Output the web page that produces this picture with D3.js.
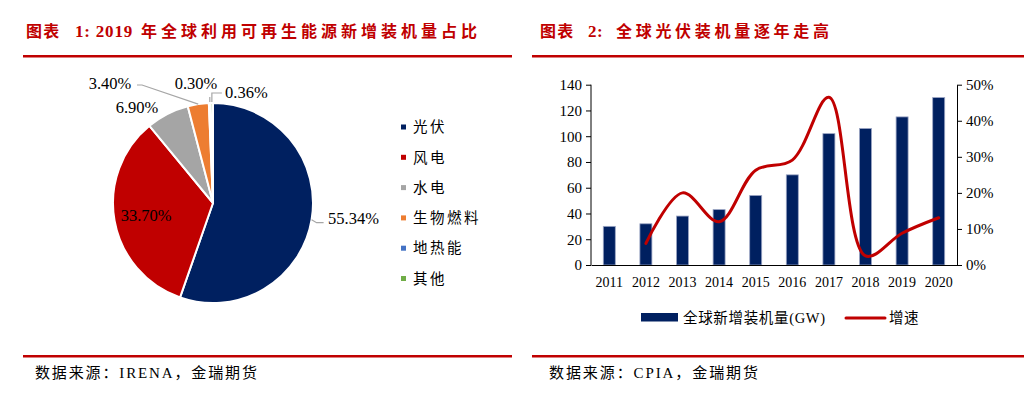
<!DOCTYPE html>
<html><head><meta charset="utf-8">
<script src="https://cdn.jsdelivr.net/npm/d3@7"></script>
<style>
body{margin:0;background:#fff;}
svg{display:block;}
text{font-family:"Liberation Serif","Times New Roman","Noto Sans CJK SC",serif;fill:#000;}
</style></head>
<body><svg id="c" width="1024" height="394"></svg>
<script>
// ---------- data ----------
const pieCategories = ["光伏","风电","水电","生物燃料","地热能","其他"];
const pieValues = [55.34, 33.70, 6.90, 3.40, 0.30, 0.36];
const pieLabels = ["55.34%","33.70%","6.90%","3.40%","0.30%","0.36%"];
const pieColors = ["#002060","#C00000","#A5A5A5","#ED7D31","#4472C4","#70AD47"];

const years = ["2011","2012","2013","2014","2015","2016","2017","2018","2019","2020"];
const installGW = [30, 32, 38, 43, 54, 70, 102, 106, 115, 130];
const growthYears = ["2012","2013","2014","2015","2016","2017","2018","2019","2020"];
const growthRate = [0.060, 0.200, 0.120, 0.263, 0.291, 0.465, 0.025, 0.088, 0.131];
const leftTicks = [0,20,40,60,80,100,120,140];
const rightTicks = [0,0.1,0.2,0.3,0.4,0.5];

const RED = "#C00000", NAVY = "#002060";
const svg = d3.select("#c");

// ---------- titles & rules ----------
function title(parts, xs){
  const t = svg.append("text").attr("y", 37).attr("fill", RED).style("fill", RED)
    .attr("font-weight","bold");
  parts.forEach((p,i)=>{
    t.append("tspan").attr("x", xs[i]).text(p.t)
      .attr("font-size", p.fs).attr("letter-spacing", p.ls)
      .style("font-family", p.f);
  });
}
const cjk = '"Noto Sans CJK SC",sans-serif';
const ser = '"Liberation Serif",serif';
title([
  {t:"图表", fs:16, ls:1.3, f:cjk},
  {t:"1: 2019", fs:17, ls:0.8, f:ser},
  {t:"年全球利用可再生能源新增装机量占比", fs:16, ls:4, f:cjk}], [26, 75, 141]);
title([
  {t:"图表", fs:16, ls:1.3, f:cjk},
  {t:"2:", fs:17, ls:0.5, f:ser},
  {t:"全球光伏装机量逐年走高", fs:16, ls:3.7, f:cjk}], [540, 588, 616]);

[[23,512],[532,1024]].forEach(([a,b])=>{
  svg.append("rect").attr("x",a).attr("y",55).attr("width",b-a).attr("height",2.5).attr("fill",RED);
  svg.append("rect").attr("x",a).attr("y",355).attr("width",b-a).attr("height",2.5).attr("fill",RED);
});
svg.append("text").attr("x",35).attr("y",378).attr("font-size",15)
  .attr("textLength",222).attr("lengthAdjust","spacing").text("数据来源：IRENA，金瑞期货");
svg.append("text").attr("x",549).attr("y",378).attr("font-size",15)
  .attr("textLength",209).attr("lengthAdjust","spacing").text("数据来源：CPIA，金瑞期货");

// ---------- pie ----------
const cx = 213, cy = 203, R = 100;
const pg = svg.append("g").attr("transform",`translate(${cx},${cy})`);
const pie = d3.pie().sort(null).value(d=>d)(pieValues);
const arc = d3.arc().innerRadius(0).outerRadius(R);
pg.selectAll("path.sl").data(pie).join("path").attr("class","sl")
  .attr("d", arc).attr("fill",(d,i)=>pieColors[i])
  .attr("stroke","#fff").attr("stroke-width",2).attr("stroke-linejoin","round");

const edge = d => { const a=(d.startAngle+d.endAngle)/2; return [R*Math.sin(a), -R*Math.cos(a)]; };
const labelArc = d3.arc().innerRadius(68).outerRadius(68);
// label layout (offsets relative to pie centre)
const labelPos = [[115,15.5],[null,null],[-76,-96],[-103,-120],[-17,-120],[12,-111]];
const labelAnchor = ["start","middle","middle","middle","middle","start"];
pie.forEach((d,i)=>{
  let x,y;
  if(i===1){ [x,y] = labelArc.centroid(d); }
  else { [x,y] = labelPos[i]; }
  pg.append("text").attr("x",x).attr("y",y).attr("dy","0.35em")
    .attr("font-size",16.5).attr("text-anchor",labelAnchor[i]).text(pieLabels[i]);
});
// leader lines
const leaders = {
  0: e => [[e[0],e[1]],[e[0]+5,e[1]+3],[e[0]+12,e[1]+3]],
  3: e => [[e[0],e[1]],[-71,-118],[-76,-118]],
  4: e => [[e[0],e[1]-1],[e[0],e[1]-6]],
  5: e => [[e[0],e[1]-1],[e[0],e[1]-10],[e[0]+10,e[1]-10]]
};
Object.keys(leaders).forEach(k=>{
  const pts = leaders[k](edge(pie[+k]));
  pg.append("path").attr("d", d3.line()(pts)).attr("fill","none")
    .attr("stroke","#A6A6A6").attr("stroke-width",1.2);
});

// pie legend
const lg = svg.append("g");
pieCategories.forEach((c,i)=>{
  const y = 127 + i*30.3;
  lg.append("rect").attr("x",401).attr("y",y-2.5).attr("width",5).attr("height",5).attr("fill",pieColors[i]);
  lg.append("text").attr("x",413).attr("y",y).attr("dy","0.36em").attr("font-size",14.5)
    .attr("letter-spacing",2.5).style("font-family",cjk).text(c);
});

// ---------- bar + line ----------
const x = d3.scaleBand().domain(years).range([591,957]).paddingInner(0.672).paddingOuter(0.336);
const yL = d3.scaleLinear().domain([0,140]).range([265,84.7]);
const yR = d3.scaleLinear().domain([0,0.5]).range([265,84.7]);

svg.append("g").selectAll("rect").data(installGW).join("rect")
  .attr("x",(d,i)=>x(years[i])).attr("y",d=>yL(d))
  .attr("width",x.bandwidth()).attr("height",d=>yL(0)-yL(d))
  .attr("fill",NAVY).attr("stroke","#9BA5C4").attr("stroke-width",0.8);

const line = d3.line().x((d,i)=>x(growthYears[i])+x.bandwidth()/2).y(d=>yR(d))
  .curve(d3.curveCatmullRom.alpha(0.5));
svg.append("path").datum(growthRate).attr("d",line).attr("fill","none")
  .attr("stroke",RED).attr("stroke-width",3).attr("stroke-linecap","round");

const axL = svg.append("g").attr("transform","translate(591,0)")
  .call(d3.axisLeft(yL).tickValues(leftTicks).tickSize(5).tickSizeOuter(0).tickPadding(4));
const axR = svg.append("g").attr("transform","translate(957,0)")
  .call(d3.axisRight(yR).tickValues(rightTicks).tickSize(5).tickSizeOuter(0).tickPadding(4)
    .tickFormat(d3.format(".0%")));
const axB = svg.append("g").attr("transform","translate(0,265)")
  .call(d3.axisBottom(x).tickSize(0).tickPadding(12));
[axL,axR,axB].forEach(a=>{
  a.selectAll("text").attr("font-size",15).style("font-family",ser).attr("fill","#000");
  a.selectAll("path,line").attr("stroke","#000");
});
axB.selectAll("text").attr("font-size",14);
axL.select(".domain").attr("d","M0,84.7V265");

// legend
svg.append("rect").attr("x",641).attr("y",313).attr("width",37).attr("height",8.5).attr("fill",NAVY);
svg.append("text").attr("x",683).attr("y",318).attr("dy","0.36em").attr("font-size",14.5)
  .attr("textLength",142).attr("lengthAdjust","spacing").text("全球新增装机量(GW)");
svg.append("line").attr("x1",846).attr("x2",885).attr("y1",318).attr("y2",318)
  .attr("stroke",RED).attr("stroke-width",3).attr("stroke-linecap","round");
svg.append("text").attr("x",889).attr("y",318).attr("dy","0.36em").attr("font-size",14.5)
  .attr("letter-spacing",0.5).style("font-family",cjk).text("增速");
</script></body></html>
